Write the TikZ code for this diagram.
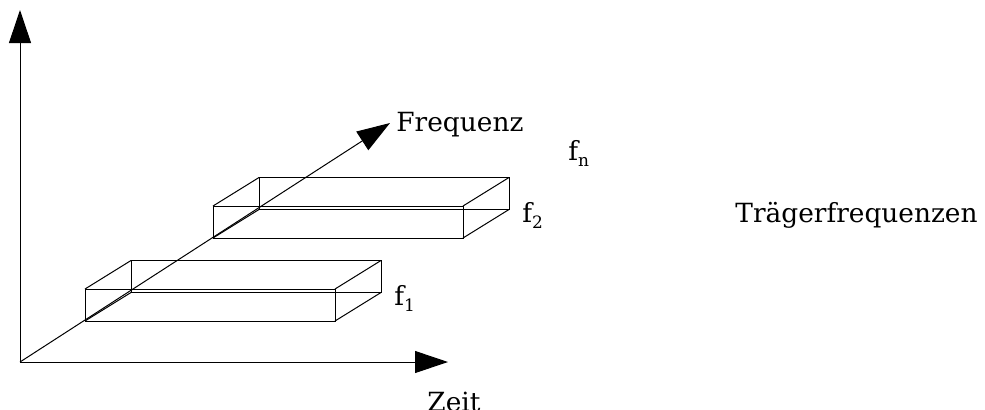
\documentclass[tikz,border=0pt]{standalone}
\usepackage{fontspec}
\setmainfont{DejaVu Serif}
\usetikzlibrary{arrows.meta,positioning}
\newcommand{\lowsub}[1]{\raisebox{-0.45ex}{\fontsize{8.5}{9}\selectfont #1}}

\begin{document}
\begin{tikzpicture}[
  x=0.5pt, y=-0.5pt,
  axis/.style={draw, line width=0.5pt, -{Triangle[length=16.5pt,width=11pt]}},
  box/.style={draw, line width=0.5pt},
  every node/.style={inner sep=0pt, anchor=base west, font=\fontsize{13.2}{15}\selectfont}
]
\useasboundingbox (0,0) rectangle (985,409);
% boxes (front lower left corner on the frequency axis)
\foreach \bx/\by in {85/321, 213/238} {
  \draw[box] (\bx,\by) rectangle ++(250,-32);
  \draw[box] (\bx+46,\by-28.5) rectangle ++(250,-32);
  \draw[box] (\bx,\by) -- ++(46,-28.5)
             (\bx+250,\by) -- ++(46,-28.5)
             (\bx,\by-32) -- ++(46,-28.5)
             (\bx+250,\by-32) -- ++(46,-28.5);
}
% axes
\coordinate (O) at (20,362);
\coordinate (top) at (20,10);
\coordinate (zt) at (448,362);
\coordinate (ft) at (390,123);
\draw[axis] (O) -- (top);
\draw[axis] (O) -- (zt);
\draw[axis] (O) -- (ft);
% labels
\node (zeit) at (427,411) {Zeit};
\node (freq) at (396,131) {Frequenz};
\node (f1) at (394,305) {f\lowsub{1}};
\node (f2) at (522,222) {f\lowsub{2}};
\node (fn) at (568,160) {f\lowsub{n}};
\node (traeger) at (735,222) {Trägerfrequenzen};
\end{tikzpicture}
\end{document}
